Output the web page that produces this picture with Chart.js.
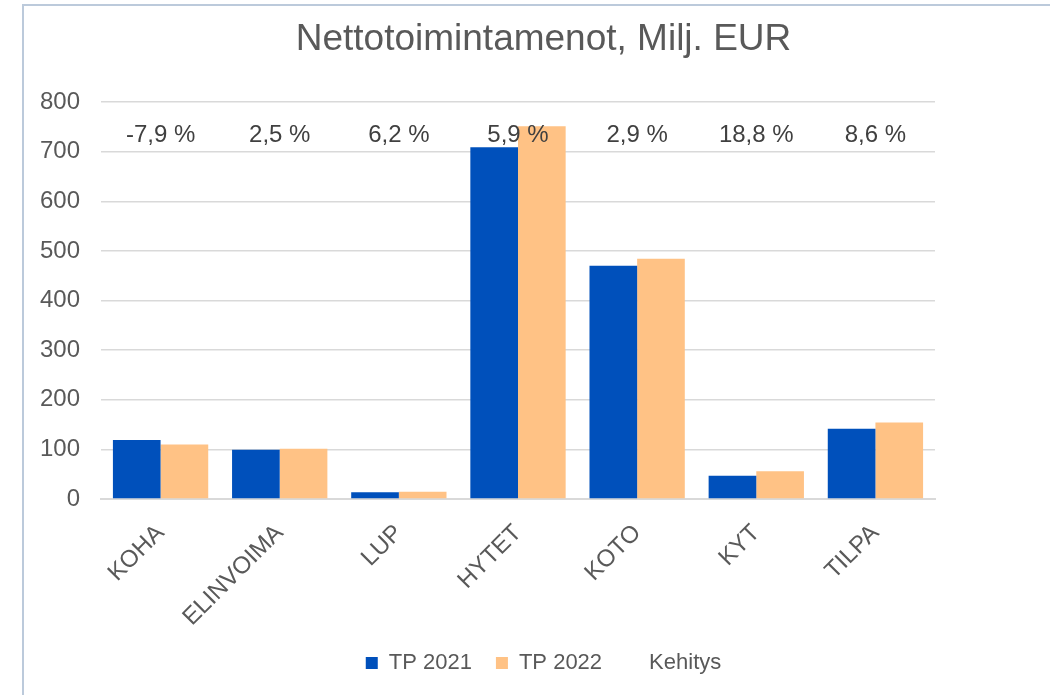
<!DOCTYPE html>
<html>
<head>
<meta charset="utf-8">
<script src="https://cdn.jsdelivr.net/npm/chart.js@4/dist/chart.umd.min.js"></script>
<style>
  html, body { margin: 0; padding: 0; background: #fff; overflow: hidden; }
  .frame { position: absolute; left: 22px; top: 4px; width: 1100px; height: 800px; border: 2px solid #bccadb; }
  canvas { position: absolute; left: 0; top: 0; }
</style>
</head>
<body>
<div class="frame"></div>
<canvas id="chart" width="1066" height="695"></canvas>
<script>
const categories = ['KOHA', 'ELINVOIMA', 'LUP', 'HYTET', 'KOTO', 'KYT', 'TILPA'];
const tp2021 = [119, 99, 13.5, 709, 470, 47, 141.5];
const tp2022 = [109.6, 101.5, 14.5, 751, 484, 56, 154];
const kehitys = [-7.9, 2.5, 6.2, 5.9, 2.9, 18.8, 8.6];
const yTicks = [0, 100, 200, 300, 400, 500, 600, 700, 800];

const textGrey = '#595959';
const font = 'Liberation Sans, Arial, sans-serif';

// percentage labels drawn in a row above the bars
const kehitysLabels = {
    id: 'kehitysLabels',
    afterDatasetsDraw(chart) {
        const ctx = chart.ctx;
        const x = chart.scales.x;
        const y = chart.scales.y;
        const rowY = y.getPixelForValue(733);
        const values = chart.data.datasets[2].data;
        ctx.save();
        ctx.font = '24px ' + font;
        ctx.fillStyle = '#404040';
        ctx.textAlign = 'center';
        ctx.textBaseline = 'middle';
        values.forEach((v, i) => {
            const txt = v.toFixed(1).replace('.', ',') + ' %';
            ctx.fillText(txt, x.getPixelForValue(i), rowY);
        });
        ctx.restore();
    }
};

const data = {
    labels: categories,
    datasets: [
        {
            label: 'TP 2021',
            data: tp2021,
            backgroundColor: '#0050bb',
            categoryPercentage: 0.8,
            barPercentage: 1.0
        },
        {
            label: 'TP 2022',
            data: tp2022,
            backgroundColor: '#ffc285',
            categoryPercentage: 0.8,
            barPercentage: 1.0
        },
        {
            type: 'line',
            label: 'Kehitys',
            data: kehitys,
            yAxisID: 'y2',
            showLine: false,
            pointRadius: 0,
            borderColor: 'rgba(0,0,0,0)',
            backgroundColor: 'rgba(0,0,0,0)',
            borderWidth: 0
        }
    ]
};

const config = {
    type: 'bar',
    data: data,
    plugins: [kehitysLabels],
    options: {
        responsive: false,
        animation: false,
        layout: { padding: { left: 21, right: 0, top: 0, bottom: 11 } },
        plugins: {
            tooltip: { enabled: false },
            title: {
                display: true,
                text: 'Nettotoimintamenot, Milj. EUR',
                color: textGrey,
                font: { family: font, size: 37, weight: 'normal' },
                padding: { top: 18, bottom: 39.6 }
            },
            legend: {
                position: 'bottom',
                labels: {
                    color: textGrey,
                    font: { family: font, size: 22 },
                    boxWidth: 12,
                    boxHeight: 12,
                    padding: 24
                }
            }
        },
        scales: {
            x: {
                grid: { display: false },
                border: { color: '#d9d9d9', width: 2 },
                ticks: {
                    color: textGrey,
                    font: { family: font, size: 24 },
                    minRotation: 45,
                    maxRotation: 45,
                    padding: 12
                },
                afterFit: (axis) => { axis.height = 129; }
            },
            y: {
                min: 0,
                max: 800,
                afterBuildTicks: (axis) => { axis.ticks = yTicks.map(v => ({ value: v })); },
                grid: { color: '#d9d9d9', lineWidth: 1.5, drawTicks: false },
                border: { display: false },
                ticks: {
                    color: textGrey,
                    font: { family: font, size: 24 },
                    padding: 21
                },
                afterFit: (axis) => { axis.width = 80; }
            },
            y2: {
                position: 'right',
                min: -20,
                max: 20,
                grid: { display: false },
                border: { display: false },
                ticks: { display: false },
                afterFit: (axis) => { axis.width = 131; }
            }
        }
    }
};

const ctx = document.getElementById('chart').getContext('2d');
const chart = new Chart(ctx, config);
</script>
</body>
</html>
